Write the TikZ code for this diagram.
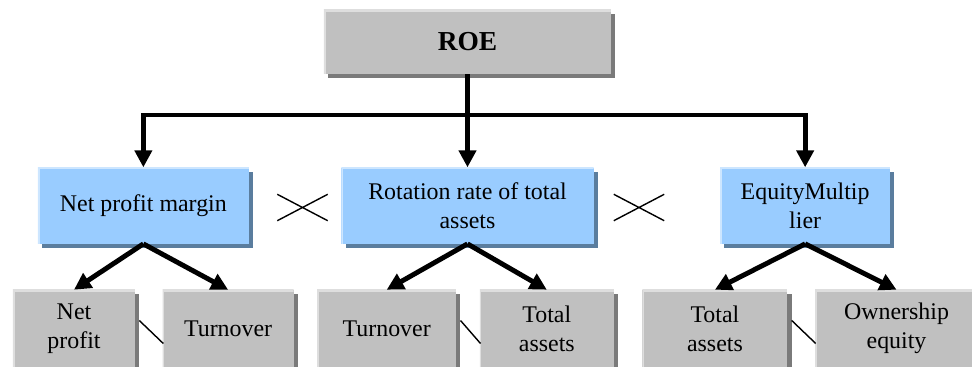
\documentclass[tikz,border=0pt]{standalone}
\usepackage{fontspec}
\setmainfont{Liberation Serif}
\usetikzlibrary{shapes.misc, arrows.meta, positioning, shadows}
\definecolor{silverbox}{HTML}{C0C0C0}
\definecolor{silvershade}{HTML}{7A7A7A}
\definecolor{silverlight}{HTML}{DEDEDE}
\definecolor{skybox}{HTML}{99CCFF}
\definecolor{skyshade}{HTML}{5A7D9E}
\definecolor{skylight}{HTML}{CDE6FF}

\begin{document}
\begin{tikzpicture}[
    x=0.025cm, y=-0.025cm,
    node distance=0.6cm,
    lit/.style={path picture={\draw[line width=2.4pt, #1] (path picture bounding box.south west) -- (path picture bounding box.north west) -- (path picture bounding box.north east);}},
    topbox/.style={rectangle, fill=silverbox, lit=silverlight, drop shadow={shadow xshift=3pt, shadow yshift=-3pt, fill=silvershade, opacity=1}, font=\fontsize{19.5}{23}\selectfont\bfseries, minimum width=7.175cm, minimum height=1.6cm},
    ratio/.style={rectangle, fill=skybox, lit=skylight, drop shadow={shadow xshift=3pt, shadow yshift=-3pt, fill=skyshade, opacity=1}, align=center, font=\fontsize{17}{20.5}\selectfont, inner sep=2pt, minimum height=1.9cm},
    factor/.style={rectangle, fill=silverbox, lit=silverlight, drop shadow={shadow xshift=3pt, shadow yshift=-3pt, fill=silvershade, opacity=1}, align=center, font=\fontsize{17}{20.5}\selectfont, inner sep=2pt, minimum height=1.925cm},
    arrow/.style={-{Triangle[length=12pt, width=12pt]}, line width=3.5pt},
    timesmark/.style={cross out, draw, line width=1pt, minimum width=1.225cm, minimum height=0.625cm, inner sep=0pt},
    divline/.style={line width=1pt}
]
\useasboundingbox (0,0) rectangle (972,367);
\clip (0,0) rectangle (972,367);

% Top
\node[topbox] (roe) at (467.5,42) {ROE};

% Ratios
\node[ratio, minimum width=6.3cm, below=2.325cm of roe] (rot) {Rotation rate of total\\assets};
\node[ratio, minimum width=5.275cm, left=2.3cm of rot] (npm) {Net profit margin};
\node[ratio, minimum width=4.25cm, right=3.15cm of rot] (eqm) {EquityMultip\\lier};

\node[timesmark] (times1) at (302.5,207.5) {};
\node[timesmark] (times2) at (639,207.5) {};

% Factors
\node[factor, minimum width=3.05cm] (netp) at (74,328.5) {Net\\profit};
\node[factor, minimum width=3.275cm, right=0.675cm of netp] (turn1) {Turnover};
\node[factor, minimum width=3.475cm, right=0.575cm of turn1] (turn2) {Turnover};
\node[factor, minimum width=3.35cm, right=0.575cm of turn2] (tot1) {Total\\assets};
\node[factor, minimum width=3.625cm, right=0.7cm of tot1] (tot2) {Total\\assets};
\node[factor, minimum width=4.075cm, right=0.675cm of tot2] (own) {Ownership\\equity};

\coordinate (split) at (roe.south |- 0,115);
\draw[arrow] (roe.south) -- (rot.north);
\draw[arrow] (split) -| (npm.north);
\draw[arrow] (split) -| (eqm.north);

\draw[arrow] (npm.south) -- (netp.north);
\draw[arrow] (npm.south) -- (turn1.north);
\draw[arrow] (rot.south) -- (turn2.north);
\draw[arrow] (rot.south) -- (tot1.north);
\draw[arrow] (eqm.south) -- (tot2.north);
\draw[arrow] (eqm.south) -- (own.north);

\draw[divline] ([shift={(4,-8)}]netp.east) -- ([shift={(1,15)}]turn1.west);
\draw[divline] ([shift={(4,-8)}]turn2.east) -- ([shift={(1,15)}]tot1.west);
\draw[divline] ([shift={(4,-8)}]tot2.east) -- ([shift={(1,15)}]own.west);

\end{tikzpicture}
\end{document}
